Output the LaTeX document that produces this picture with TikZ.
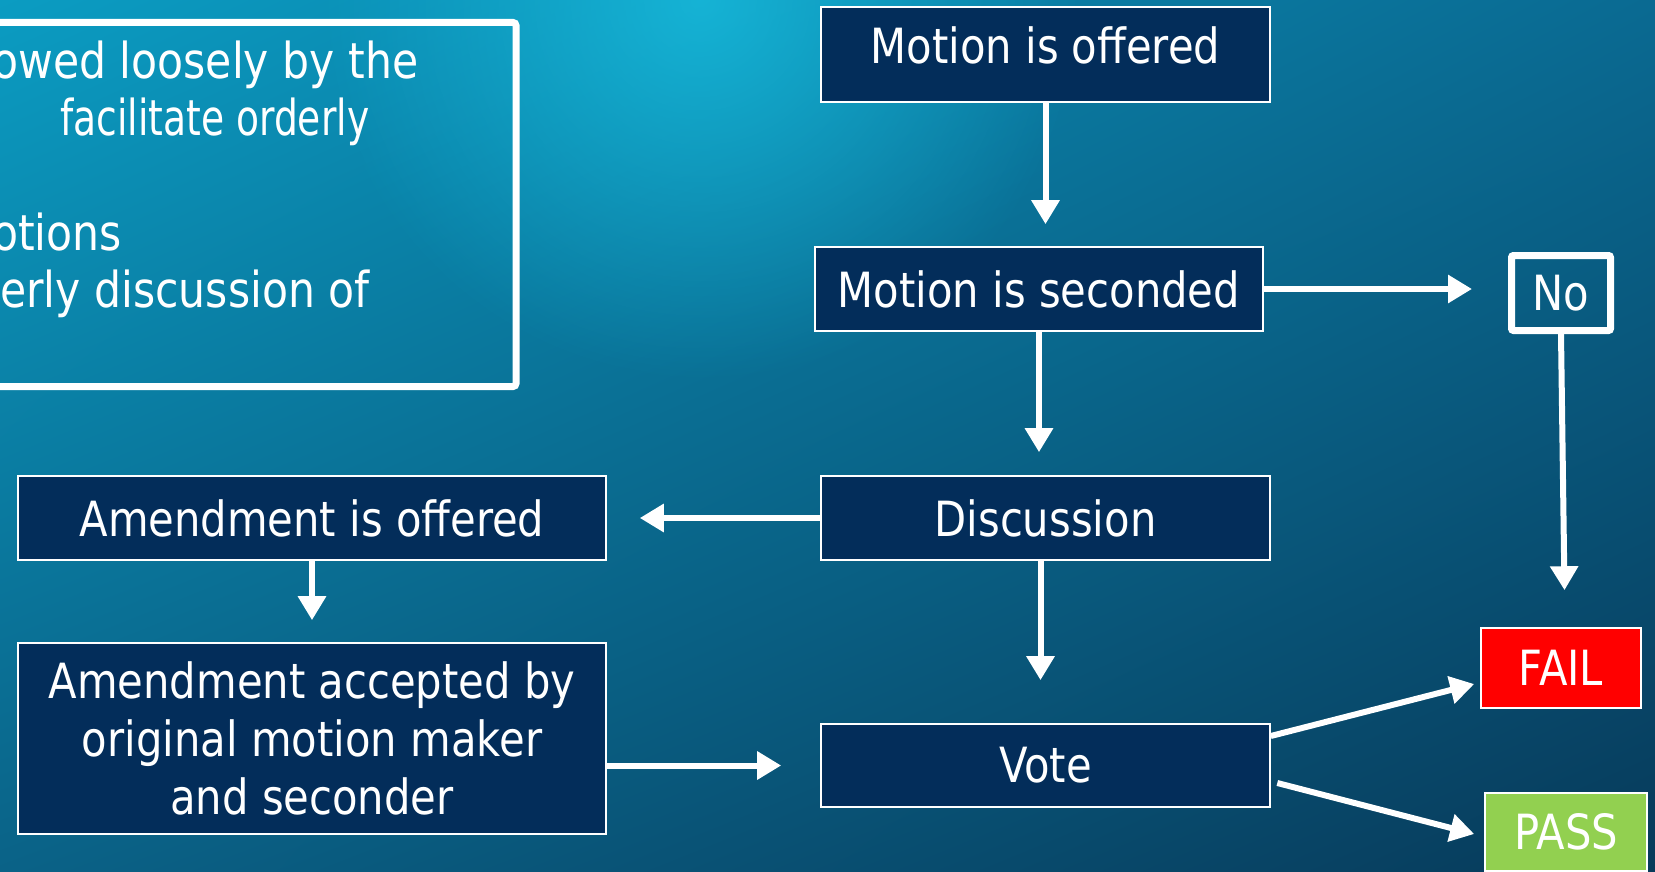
\documentclass[tikz,border=0pt]{standalone}
\usepackage{fontspec}
\setmainfont{DejaVu Sans}[FakeStretch=0.86]
\newfontfamily\notenarrow{DejaVu Sans}[FakeStretch=0.76]
\usetikzlibrary{arrows.meta,calc,fadings,shadings}
\definecolor{boxnavy}{HTML}{032D5A}
\definecolor{failred}{HTML}{FF0000}
\definecolor{passgreen}{HTML}{92D050}
\definecolor{bgUL}{HTML}{0B9CC2}
\definecolor{bgUR}{HTML}{0A6A92}
\definecolor{bgLL}{HTML}{0A6287}
\definecolor{bgLR}{HTML}{073A5A}
\definecolor{bgGlow}{HTML}{1AC6E6}
\tikzfading[name=glowfade, inner color=transparent!0, outer color=transparent!100]
\tikzset{
  flowbox/.style={draw=white, line width=1.6pt, fill=boxnavy, text=white,
    inner sep=0pt, font=\fontsize{48.5}{58}\selectfont},
  verdict/.style={flowbox, minimum width=160pt, minimum height=80pt},
  notetext/.style={text=white, inner sep=0pt, anchor=base west,
    font=\fontsize{49.5}{57}\selectfont},
  flowarrow/.style={draw=white, line width=6pt, -{Triangle[length=24pt,width=27pt]}},
}

\begin{document}
\begin{tikzpicture}[x=1pt,y=-1pt]
  \useasboundingbox (0,0) rectangle (1655,872);
  % background
  \shade[upper left=bgUL, upper right=bgUR, lower left=bgLL, lower right=bgLR]
    (0,0) rectangle (1655,872);
  \fill[bgGlow, opacity=0.7, path fading=glowfade] (700,0) circle (380pt);

  % notes box, cut off at the left edge
  \draw[white, line width=7pt, rounded corners=3pt] (-20,22.5) rectangle (516,386.5);
  \node[notetext] (noteA) at (-8,79) {owed loosely by the};
  \node[notetext, font=\notenarrow\fontsize{49.5}{57}\selectfont] (noteB) at (60,136) {facilitate orderly};
  \node[notetext] (noteC) at (-8,250) {otions};
  \node[notetext] (noteD) at (0,307) {erly discussion of};

  % main column
  \node[flowbox, minimum width=449pt, minimum height=95pt, text depth=18pt]
    (offered) at (1045.5,54.5) {Motion is offered};
  \node[flowbox, minimum width=448pt, minimum height=84pt] (seconded) at (1039,289) {Motion is seconded};
  \node[flowbox, minimum width=449pt, minimum height=84pt] (discussion) at (1045.5,518) {Discussion};
  \node[flowbox, minimum width=449pt, minimum height=83pt] (vote) at (1045.5,765.5) {Vote};

  % amendment column
  \node[flowbox, minimum width=588pt, minimum height=191pt, align=center] (amendacc) at (312,738.5)
    {Amendment accepted by\\original motion maker\\and seconder};
  \node[flowbox, minimum width=588pt, minimum height=84pt] (amendoff) at (312,518) {Amendment is offered};

  % outcomes
  \node[draw=white, line width=7pt, rounded corners=2pt, text=white, inner sep=0pt,
    minimum width=99pt, minimum height=75pt, font=\fontsize{48.5}{58}\selectfont]
    (no) at (1561,293) {No};
  \node[verdict, fill=failred] (fail) at (1561,668) {FAIL};
  \node[verdict, fill=passgreen, minimum width=162pt, minimum height=78pt] (pass) at (1566,832) {PASS};

  % arrows
  \draw[flowarrow, shorten >=22pt] (offered.south) -- (offered.south |- seconded.north);
  \draw[flowarrow, shorten >=23pt] (seconded.south) -- (seconded.south |- discussion.north);
  \draw[flowarrow, shorten >=43pt] ([xshift=-5pt]discussion.south) -- ([xshift=-5pt]discussion.south |- vote.north);
  \draw[flowarrow, shorten >=36pt] (seconded.east) -- (seconded.east -| no.west);
  \draw[flowarrow, shorten >=37pt] (no.south) -- ([xshift=4pt]fail.north);
  \draw[flowarrow, shorten >=33pt] (discussion.west) -- (discussion.west -| amendoff.east);
  \draw[flowarrow, shorten >=22pt] (amendoff.south) -- (amendoff.south |- amendacc.north);
  \draw[flowarrow, shorten >=39pt] (amendacc.east |- vote.west) -- (vote.west);
  \draw[flowarrow] ([yshift=29.5pt]vote.east) -- ([xshift=-6pt,yshift=-16pt]fail.west);
  \draw[flowarrow] ([xshift=6.5pt,yshift=-17.5pt]vote.east) -- ([xshift=-10pt,yshift=-2pt]pass.west);
\end{tikzpicture}
\end{document}
